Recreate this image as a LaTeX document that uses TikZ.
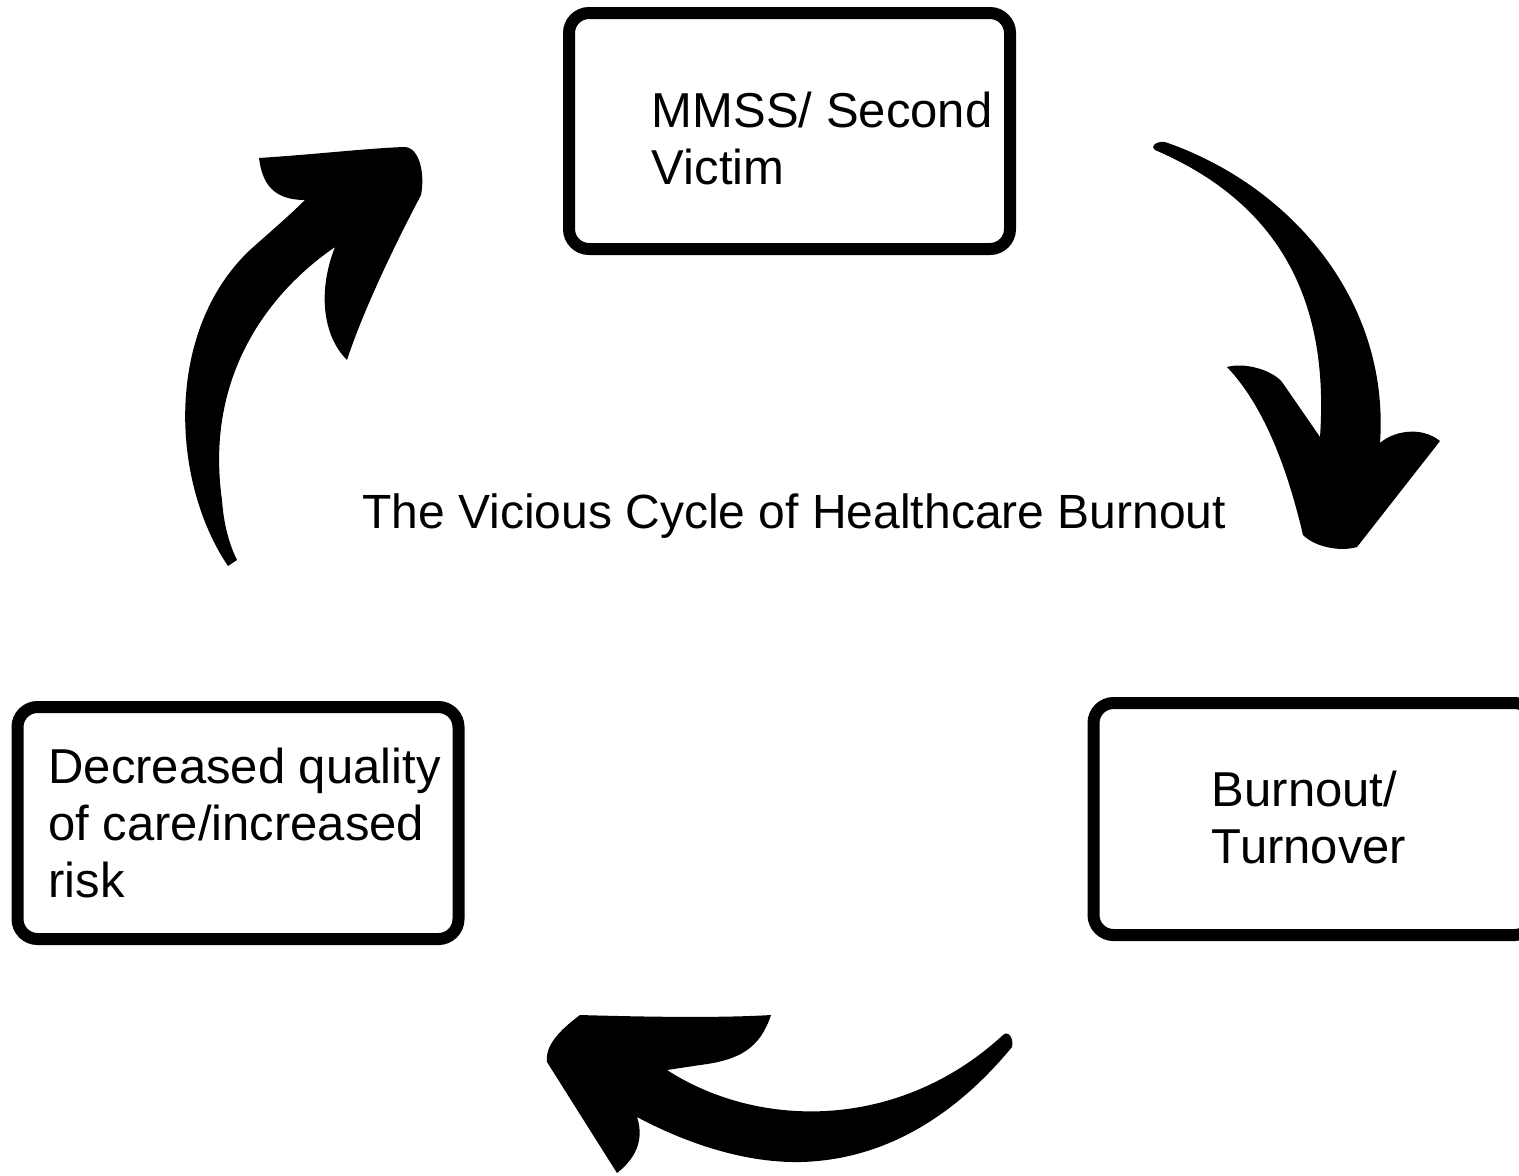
\documentclass[tikz,border=0pt]{standalone}
\usepackage{fontspec}
\setmainfont{Liberation Sans}
\usetikzlibrary{positioning}
\tikzset{
  fig/.style={font=\fontsize{24}{28.5}\selectfont},
  box/.style={draw,line width=6pt,rounded corners=10pt,inner sep=0pt},
  txt/.style={anchor=north west,align=left,inner sep=0pt,
              font=\fontsize{24.5}{28.5}\selectfont},
  sweep/.style={fill=black},
}

\begin{document}
\begin{tikzpicture}[fig,x=0.5pt,y=-0.5pt,
  stage/.style={box,minimum width=220.5pt,minimum height=116pt}]

\useasboundingbox (0,0) rectangle (1519,1175);

\node[stage,minimum height=118pt] (mm) at (789.5,131) {};
\node[stage] (bo) at (1314,819) {};
\node[stage] (dq) at (238,823) {};

\node[txt] (mmt) at (651.5,92) {MMSS/ Second\\Victim};
\node[txt] (bot) at (1211.5,771) {Burnout/\\Turnover};
\node[txt] (dqt) at (48,748) {Decreased quality\\of care/increased\\risk};

\node[anchor=base west,inner sep=0pt] (ttl) at (362,528)
  {The Vicious Cycle of Healthcare Burnout};

% dq -> mm
\fill[sweep] (228,566) .. controls (170,480) and (165,330) .. (250,250)
  .. controls (270,232) and (290,215) .. (305,200)
  .. controls (272,200) and (262,182) .. (259,158)
  .. controls (320,154) and (370,148) .. (405,147)
  .. controls (420,148) and (425,175) .. (421,195)
  .. controls (400,235) and (365,305) .. (347,360)
  .. controls (322,335) and (318,290) .. (335,247)
  .. controls (265,295) and (205,380) .. (222,500)
  .. controls (224,530) and (232,550) .. (237,560)
  -- cycle;

% mm -> bo
\fill[sweep] (1165,142) .. controls (1290,185) and (1390,300) .. (1380,443)
  .. controls (1392,432) and (1420,425) .. (1440,441)
  -- (1357,547)
  .. controls (1340,552) and (1315,547) .. (1303,535)
  .. controls (1290,480) and (1268,410) .. (1227,367)
  .. controls (1245,362) and (1272,370) .. (1282,382)
  -- (1320,437)
  .. controls (1328,320) and (1295,210) .. (1155,150)
  .. controls (1150,147) and (1155,141) .. (1165,142)
  -- cycle;

% bo -> dq
\fill[sweep] (1003,1035) .. controls (1008,1030) and (1014,1038) .. (1012,1047)
  .. controls (960,1110) and (890,1160) .. (800,1162)
  .. controls (740,1163) and (680,1140) .. (637,1117)
  .. controls (643,1135) and (640,1155) .. (617,1173)
  -- (547,1062)
  .. controls (545,1045) and (560,1030) .. (580,1015)
  .. controls (650,1017) and (720,1018) .. (771,1015)
  .. controls (760,1048) and (740,1060) .. (700,1065)
  -- (667,1070)
  .. controls (760,1130) and (900,1130) .. (1003,1035)
  -- cycle;

\end{tikzpicture}
\end{document}
